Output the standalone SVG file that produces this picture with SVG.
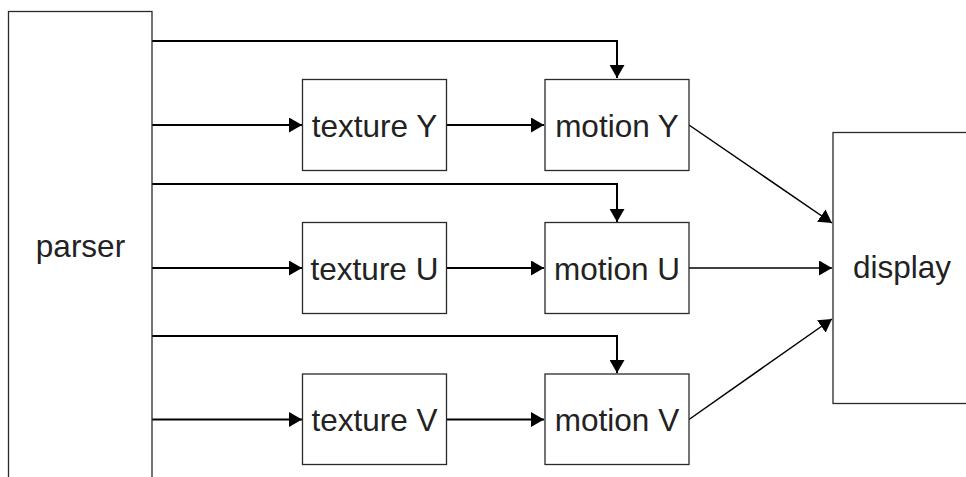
<svg xmlns="http://www.w3.org/2000/svg" width="966" height="477" viewBox="0 0 966 477">
  <defs>
    <style>
      .box { fill: #ffffff; stroke: #2a2a2a; stroke-width: 1.3; }
      .label { font-family: "Liberation Sans", Arial, sans-serif; font-size: 31.5px; fill: #222222; text-anchor: middle; }
      .wire { fill: none; stroke: #000000; stroke-width: 2; }
      .diag { fill: none; stroke: #000000; stroke-width: 1.5; }
    </style>
    <marker id="arrow" viewBox="0 0 13 15" refX="13" refY="7.5" markerWidth="13" markerHeight="15" markerUnits="userSpaceOnUse" orient="auto">
      <path d="M0,0 L13,7.5 L0,15 Z" fill="#000000"/>
    </marker>
  </defs>

  <rect width="966" height="477" fill="#ffffff"/>

  <!-- connectors -->
  <g id="connectors">
    <!-- Y plane -->
    <path class="wire" d="M152,41 H617 V78" marker-end="url(#arrow)"/>
    <path class="wire" d="M152,125 H302" marker-end="url(#arrow)"/>
    <path class="wire" d="M447,125 H544" marker-end="url(#arrow)"/>
    <path class="diag" d="M689,125 L832,223" marker-end="url(#arrow)"/>
    <!-- U plane -->
    <path class="wire" d="M152,184 H617 V222" marker-end="url(#arrow)"/>
    <path class="wire" d="M152,268 H302" marker-end="url(#arrow)"/>
    <path class="wire" d="M447,268 H544" marker-end="url(#arrow)"/>
    <path class="diag" d="M689,268 L832,268" marker-end="url(#arrow)"/>
    <!-- V plane -->
    <path class="wire" d="M152,336 H617 V373" marker-end="url(#arrow)"/>
    <path class="wire" d="M152,419.5 H302" marker-end="url(#arrow)"/>
    <path class="wire" d="M447,419.5 H544" marker-end="url(#arrow)"/>
    <path class="diag" d="M689,419.5 L832,319" marker-end="url(#arrow)"/>
  </g>

  <!-- nodes -->
  <g id="parser">
    <rect class="box" x="8.5" y="11.5" width="143.5" height="480"/>
    <text class="label" x="80.5" y="256.5">parser</text>
  </g>

  <g id="texture-y">
    <rect class="box" x="302.5" y="79.5" width="144" height="91"/>
    <text class="label" x="374.5" y="136.5">texture Y</text>
  </g>
  <g id="motion-y">
    <rect class="box" x="545" y="79.5" width="144" height="91"/>
    <text class="label" x="617" y="136.5">motion Y</text>
  </g>

  <g id="texture-u">
    <rect class="box" x="302.5" y="222.5" width="144" height="91"/>
    <text class="label" x="374.5" y="279.5">texture U</text>
  </g>
  <g id="motion-u">
    <rect class="box" x="545" y="222.5" width="144" height="91"/>
    <text class="label" x="617" y="279.5">motion U</text>
  </g>

  <g id="texture-v">
    <rect class="box" x="302.5" y="374" width="144" height="90.5"/>
    <text class="label" x="374.5" y="431">texture V</text>
  </g>
  <g id="motion-v">
    <rect class="box" x="545" y="374" width="144" height="90.5"/>
    <text class="label" x="617" y="431">motion V</text>
  </g>

  <g id="display">
    <rect class="box" x="833" y="132.5" width="140" height="271"/>
    <text class="label" x="902" y="278">display</text>
  </g>
</svg>
